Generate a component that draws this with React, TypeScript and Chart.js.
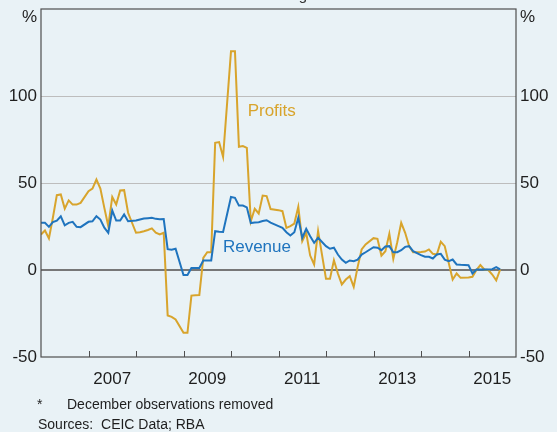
import React, { useEffect, useRef } from "react";
import { Chart, registerables } from "chart.js";

Chart.register(...registerables);

// ---------------- data ----------------
// Monthly observations, December removed (Jan–Nov each year), Jan 2006 – Sep 2015
const firstYear = 2006;
const lastYear = 2015;
const lastMonthOfLastYear = 9;

// Year-ended growth, per cent
const profits = [
  // 2006
  20.4, 22.7, 18.1, 30, 43, 43.4, 35.3, 40, 37.6, 37.6, 38.6,
  // 2007
  45.3, 46.8, 52, 46.8, 35.7, 25.2, 42, 37.6, 45.7, 45.9, 32.9,
  // 2008
  21.4, 21.7, 22.3, 23, 23.9, 21.5, 20.4, 21.4, -26.1, -26.9, -28.4,
  // 2009
  -36.1, -36.1, -14.7, -14.5, -14.4, 7, 10.2, 10.2, 73.1, 73.5, 65,
  // 2010
  125.7, 125.7, 70.8, 71.2, 70.2, 28, 35.2, 32.5, 42.8, 42.5, 35,
  // 2011
  34.4, 33.8, 24.2, 25.2, 26.7, 36.3, 16.6, 21.4, 8.3, 3.2, 22.3,
  // 2012
  -5.1, -5.1, 5.6, -2, -8.3, -5.5, -3.6, -9.7, 1.8, 11.8, 14.7,
  // 2013
  18.3, 17.9, 8.3, 10.8, 20.8, 6.4, 16, 27.1, 21.4, 13.7, 10.2,
  // 2014
  10.4, 10.6, 11.8, 9.3, 8.9, 16.2, 13.7, 4.1, -5.5, -2, -4.5,
  // 2015
  -4.3, -3.9, 0, 2.8, 0.3, 0, -2.6, -5.9, 0.3,
];

const revenue = [
  // 2006
  27.1, 27.1, 24.8, 27.5, 28.4, 30.9, 25.7, 27.1, 27.7, 24.8, 24.6,
  // 2007
  27.7, 28, 30.9, 29, 24.3, 21.4, 34.2, 28.4, 28.4, 31.9, 28,
  // 2008
  28.4, 29, 29.6, 29.8, 30, 29.4, 29.2, 29.3, 12, 11.7, 12.2,
  // 2009
  -2.9, -2.9, 1.2, 1.2, 1.2, 5.5, 5.5, 5.5, 22.3, 22, 21.9,
  // 2010
  42, 41.5, 37, 37, 36, 27, 27.3, 27.5, 28.2, 28.6, 27.2,
  // 2011
  25.2, 24.2, 21.7, 19.8, 21.7, 30, 18.5, 23.7, 19.4, 15.6, 18.5,
  // 2012
  13.7, 12.2, 12.8, 8.9, 6, 4.1, 5.5, 5.1, 6, 8.9, 10.2,
  // 2013
  13.1, 12.8, 11.4, 13.5, 13.7, 10.2, 10.2, 11.4, 13.3, 13.7, 10.8,
  // 2014
  8.5, 7.6, 7.6, 6.6, 8.9, 9.3, 6, 5.1, 6, 3.2, 3,
  // 2015
  2.8, -2, 0.3, 0.3, 0.3, 0.3, 0.5, 1.6, 0.3,
];

const xLabelYears = [2007, 2009, 2011, 2013, 2015];
const xTickYears = [2007, 2008, 2009, 2010, 2011, 2012, 2013, 2014, 2015];
const yTicks = [-50, 0, 50, 100, 150];
const yMin = -50;
const yMax = 150;
const xMin = 2006;
const xMax = 2016;

const titleText = "Year-ended growth*";
const footnoteText = "December observations removed";
const sourcesText = "Sources:  CEIC Data; RBA";

// series label anchors (data coordinates)
const profitsLabelAt = { x: 2010.35, y: 88.5 };
const revenueLabelAt = { x: 2009.83, y: 10.3 };

// ---------------- build dates (Jan–Nov, December removed) ----------------
const dates: number[] = [];
for (let y = firstYear; y <= lastYear; y++) {
  const lastM = y === lastYear ? lastMonthOfLastYear : 11;
  for (let m = 1; m <= lastM; m++) dates.push(y + (m - 1) / 12);
}

const FONT = "Arial, 'Liberation Sans', Helvetica, sans-serif";
const BG = "#E9F2F6";
const PROFITS_COLOR = "#D8A42C";
const REVENUE_COLOR = "#1F74BE";
const TEXT_COLOR = "#1e1e1e";

const decorPlugin = {
  id: "decor",
  beforeDraw(chart: any) {
    const { ctx } = chart;
    ctx.save();
    ctx.fillStyle = BG;
    ctx.fillRect(0, 0, chart.width, chart.height);
    ctx.restore();
  },
  afterDatasetsDraw(chart: any) {
    const { ctx, chartArea } = chart;
    const xs = chart.scales.x;
    const ys = chart.scales.y;
    ctx.save();
    // plot box
    ctx.strokeStyle = "#4f4f4f";
    ctx.lineWidth = 1.2;
    ctx.strokeRect(chartArea.left, chartArea.top, chartArea.right - chartArea.left, chartArea.bottom - chartArea.top);
    // inward x tick marks
    ctx.beginPath();
    for (const yr of xTickYears) {
      const px = Math.round(xs.getPixelForValue(yr)) + 0.5;
      ctx.moveTo(px, chartArea.bottom);
      ctx.lineTo(px, chartArea.bottom - 6);
    }
    ctx.lineWidth = 1;
    ctx.stroke();

    // series labels
    ctx.font = `17px ${FONT}`;
    ctx.textBaseline = "alphabetic";
    ctx.textAlign = "left";
    ctx.fillStyle = PROFITS_COLOR;
    ctx.fillText("Profits", xs.getPixelForValue(profitsLabelAt.x), ys.getPixelForValue(profitsLabelAt.y));
    ctx.fillStyle = REVENUE_COLOR;
    ctx.fillText("Revenue", xs.getPixelForValue(revenueLabelAt.x), ys.getPixelForValue(revenueLabelAt.y));

    // % unit labels
    ctx.fillStyle = TEXT_COLOR;
    ctx.textBaseline = "middle";
    ctx.textAlign = "right";
    ctx.fillText("%", chartArea.left - 4, chartArea.top + 8);
    ctx.textAlign = "left";
    ctx.fillText("%", chartArea.right + 4, chartArea.top + 8);

    // title (cut off at top)
    ctx.font = `15px ${FONT}`;
    ctx.textAlign = "center";
    ctx.textBaseline = "alphabetic";
    ctx.fillStyle = "#333";
    ctx.fillText(titleText, (chartArea.left + chartArea.right) / 2 + 5, -0.5);

    // footnotes
    ctx.font = `14px ${FONT}`;
    ctx.textAlign = "left";
    ctx.fillStyle = TEXT_COLOR;
    ctx.fillText("*", 37, 409);
    ctx.fillText(footnoteText, 67, 409);
    ctx.fillText(sourcesText, 38, 429);
    ctx.restore();
  },
};

export default function App() {
  const canvasRef = useRef<HTMLCanvasElement | null>(null);

  useEffect(() => {
    if (!canvasRef.current) return;
    const chart = new Chart(canvasRef.current, {
      type: "line",
      data: {
        datasets: [
          {
            label: "Revenue",
            data: dates.map((d, i) => ({ x: d, y: revenue[i] })),
            borderColor: REVENUE_COLOR,
            backgroundColor: REVENUE_COLOR,
            borderWidth: 2,
            pointRadius: 0,
            tension: 0,
          },
          {
            label: "Profits",
            data: dates.map((d, i) => ({ x: d, y: profits[i] })),
            borderColor: PROFITS_COLOR,
            backgroundColor: PROFITS_COLOR,
            borderWidth: 2,
            pointRadius: 0,
            tension: 0,
          },
        ],
      },
      options: {
        animation: false,
        responsive: false,
        maintainAspectRatio: false,
        parsing: false as any,
        layout: { padding: { top: 0, left: 0, right: 0, bottom: 0 } },
        plugins: { legend: { display: false }, tooltip: { enabled: false }, title: { display: false } },
        scales: {
          x: {
            type: "linear",
            position: "bottom",
            min: xMin,
            max: xMax,
            afterBuildTicks: (s: any) => {
              s.ticks = xLabelYears.map((y) => ({ value: y + 0.5 }));
            },
            afterFit: (s: any) => {
              s.height = 75;
            },
            grid: { display: false, drawTicks: false },
            border: { display: false },
            ticks: {
              autoSkip: false,
              maxRotation: 0,
              padding: 12,
              color: TEXT_COLOR,
              font: { family: FONT, size: 17 },
              callback: (v: any) => String(Math.floor(Number(v))),
            },
          },
          y: {
            type: "linear",
            position: "left",
            min: yMin,
            max: yMax,
            afterBuildTicks: (s: any) => {
              s.ticks = yTicks.map((v) => ({ value: v }));
            },
            afterFit: (s: any) => {
              s.width = 41;
              s.paddingTop = 9;
            },
            grid: {
              drawTicks: false,
              color: (c: any) => {
                const v = c.tick?.value;
                if (v === 0) return "#777777";
                if (v === yMin || v === yMax) return "rgba(0,0,0,0)";
                return "#bdbdbd";
              },
              lineWidth: (c: any) => (c.tick?.value === 0 ? 2 : 1),
            },
            border: { display: false },
            ticks: {
              padding: 4,
              color: TEXT_COLOR,
              font: { family: FONT, size: 17 },
              callback: (v: any) => (Number(v) === yMax ? "" : String(v)),
            },
          },
          y2: {
            type: "linear",
            position: "right",
            min: yMin,
            max: yMax,
            afterBuildTicks: (s: any) => {
              s.ticks = yTicks.map((v) => ({ value: v }));
            },
            afterFit: (s: any) => {
              s.width = 41;
              s.paddingTop = 9;
            },
            grid: { display: false, drawTicks: false },
            border: { display: false },
            ticks: {
              padding: 4,
              color: TEXT_COLOR,
              font: { family: FONT, size: 17 },
              callback: (v: any) => (Number(v) === yMax ? "" : String(v)),
            },
          },
        },
      },
      plugins: [decorPlugin],
    } as any);
    return () => chart.destroy();
  }, []);

  return (
    <div style={{ position: "fixed", left: 0, top: 0, width: 557, height: 432, background: BG }}>
      <canvas ref={canvasRef} width={557} height={432} style={{ display: "block", width: 557, height: 432 }} />
    </div>
  );
}
